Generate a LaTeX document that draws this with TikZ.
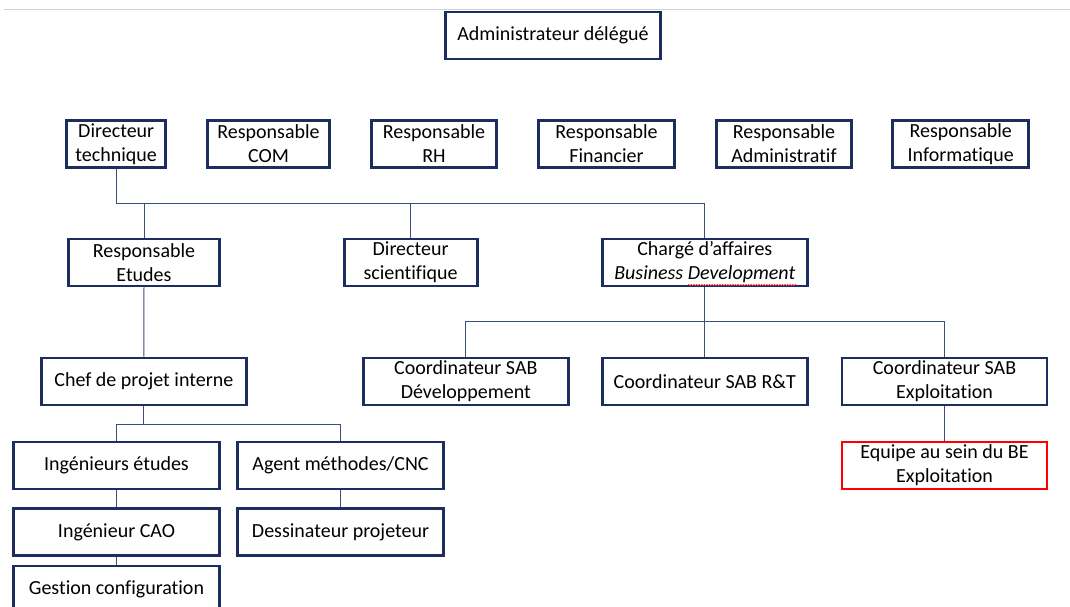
\documentclass[tikz,border=0pt]{standalone}
\usepackage{fontspec}
\setmainfont[Ligatures=NoCommon]{Carlito}
\usetikzlibrary{decorations.pathmorphing}
\definecolor{navy}{RGB}{28,46,96}
\definecolor{linkblue}{RGB}{58,78,128}
\definecolor{pagegrey}{RGB}{212,212,212}
\begin{document}
\begin{tikzpicture}[x=1pt,y=-1pt,
  box/.style={draw=navy, line width=2.8pt, fill=white, align=center,
    inner sep=0pt, minimum height=47pt, font=\fontsize{20}{24}\selectfont},
  redbox/.style={box, draw=red},
  link/.style={draw=linkblue, line width=1pt}]
\useasboundingbox (0,0) rectangle (1070,607);
\clip (0,0) rectangle (1070,607);
\fill[white] (0,0) rectangle (1070,607);
% page edge
\draw[pagegrey, line width=1pt] (4,10) -- (1070,10);

% top level
\node[box, minimum width=215pt] (admin) at (553,35.5) {Administrateur délégué};

% row 1
\node[box, minimum width=99pt]  (dt)   at (116.2,144) {Directeur\\technique};
\node[box, minimum width=122pt] (com)  at (268.5,144) {Responsable\\COM};
\node[box, minimum width=125pt] (rh)   at (434,144)   {Responsable\\RH};
\node[box, minimum width=136pt] (fin)  at (606.5,144) {Responsable\\Financier};
\node[box, minimum width=135pt] (adm)  at (784,144)   {Responsable\\Administratif};
\node[box, minimum width=136pt] (info) at (960.8,144) {Responsable\\Informatique};

% row 2
\node[box, minimum width=151pt] (etudes) at (144,262.5)   {Responsable\\Etudes};
\node[box, minimum width=133pt] (sci)    at (410.6,262.5) {Directeur\\scientifique};
\node[box, minimum width=205pt] (charge) at (704.8,262.5) {Chargé d’affaires\\\textit{Business Development}};

% row 3
\node[box, minimum width=205pt] (chef) at (143.8,381.4) {Chef de projet interne};
\node[box, minimum width=205pt] (cdev) at (465.8,381.4) {Coordinateur SAB\\Développement};
\node[box, minimum width=205pt] (crt)  at (704.8,381.4) {Coordinateur SAB R\&T};
\node[box, minimum width=205pt] (cexp) at (944.5,381.4) {Coordinateur SAB\\Exploitation};

% row 4 and below
\node[box, minimum width=206pt]    (ing)    at (116.5,465.4) {Ingénieurs études};
\node[box, minimum width=206pt]    (agent)  at (340.5,465.4) {Agent méthodes/CNC};
\node[redbox, minimum width=205pt] (equipe) at (944.5,465.4) {Equipe au sein du BE\\Exploitation};
\node[box, minimum width=206pt]    (cao)    at (116.5,532)   {Ingénieur CAO};
\node[box, minimum width=206pt]    (dess)   at (340.5,532)   {Dessinateur projeteur};
\node[box, minimum width=206pt]    (gest)   at (116.5,589.5) {Gestion configuration};

% spell-check squiggle under "Development"
\draw[red!85!white, line width=0.5pt, decorate,
  decoration={snake, amplitude=0.7pt, segment length=2.6pt}]
  (688,285) -- (797,285);

% bus rails
\coordinate (busA) at (0,203.5);
\coordinate (busB) at (0,321.7);
\coordinate (busC) at (0,424.5);

% connectors: technical director
\draw[link] (dt.south) |- (charge.north |- busA) -- (charge.north);
\draw[link] (etudes.north |- busA) -- (etudes.north);
\draw[link] (sci.north |- busA) -- (sci.north);

% connectors: business development
\draw[link] (charge.south) -- (crt.north);
\draw[link] (cdev.north) |- (cexp.north |- busB) -- (cexp.north);
\draw[link] (cexp.south) -- (equipe.north);

% connectors: studies
\draw[link] (etudes.south) -- (chef.north);
\draw[link] (chef.south) -- (chef.south |- busC);
\draw[link] (ing.north) |- (agent.north |- busC) -- (agent.north);
\draw[link] (ing.south) -- (cao.north);
\draw[link] (cao.south) -- (gest.north);
\draw[link] (agent.south) -- (dess.north);
\end{tikzpicture}
\end{document}
